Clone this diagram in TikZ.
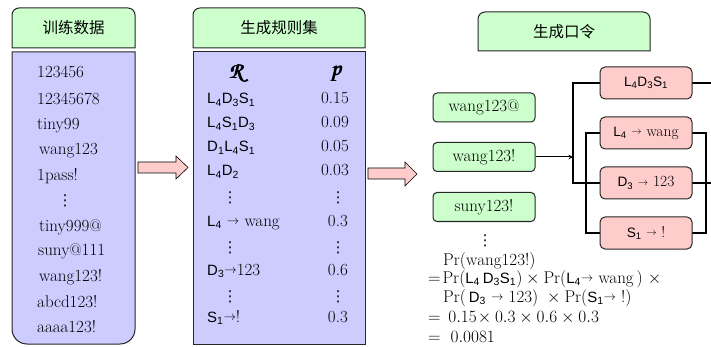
\documentclass[tikz,border=0pt]{standalone}
\usepackage{amsmath}
\usepackage{graphicx}
\usepackage{fontspec}
\setsansfont{Liberation Sans}[Scale=0.88]
\newfontfamily\cjk{Noto Sans CJK SC}
\newfontfamily\dotsfont{DejaVu Sans}
\DeclareMathAlphabet{\mathpzc}{OT1}{pzc}{m}{it}
\usetikzlibrary{backgrounds}
\definecolor{hdrgreen}{RGB}{204,255,204}
\definecolor{bodyblue}{RGB}{204,204,255}
\definecolor{rulepink}{RGB}{255,204,204}
% a symbol with a subscript length, e.g. L_4
\newcommand\tok[2]{\textsf{#1\textsubscript{#2}}}
% small rewrite arrow
\newcommand\sar{\raisebox{0.11em}{\scalebox{0.72}{$\rightarrow$}}}
% vertical ellipsis as a single glyph
\newcommand\vd{{\dotsfont\fontsize{15}{18}\selectfont ⋮}}
\begin{document}
\begin{tikzpicture}[x=1pt,y=-1pt,
  every node/.style={font=\fontsize{17}{20}\selectfont, inner sep=0pt},
  frame/.style={draw=black!85, line width=1pt},
  hdr/.style={frame, fill=hdrgreen},
  body/.style={frame, fill=bodyblue},
  cjktext/.style={font=\cjk\fontsize{15.5}{18}\selectfont},
  dots/.style={anchor=base},
  pwbox/.style={frame, fill=hdrgreen, rounded corners=4pt, minimum width=102pt, minimum height=29pt},
  rulebox/.style={frame, fill=rulepink, rounded corners=5pt, minimum width=92pt, minimum height=32pt,
    font=\fontsize{15.5}{18}\selectfont},
  bigarrow/.style={draw=black, line width=0.6pt, fill=rulepink},
  bus/.style={line width=2.2pt, line cap=rect}]
\useasboundingbox (0,0) rectangle (711,347);

% ---- training data column
\path[hdr] (12,48) -- (12,15) .. controls (12,11.13) and (15.13,8) .. (19,8) -- (128,8)
  .. controls (131.87,8) and (135,11.13) .. (135,15) -- (135,48) -- cycle;
\node[cjktext] (t1) at (73.5,28) {训练数据};
\path[body] (12,52) -- (135,52) -- (135,329) .. controls (135,337.28) and (128.28,344) .. (120,344)
  -- (27,344) .. controls (18.72,344) and (12,337.28) .. (12,329) -- cycle;
\node[anchor=base west] (d1) at (37,78) {123456};
\node[anchor=base west] (d2) at (37,105) {12345678};
\node[anchor=base west] (d3) at (37,130) {tiny99};
\node[anchor=base west] (d4) at (39,155) {wang123};
\node[anchor=base west] (d5) at (37,181) {1pass!};
\node[dots] (d6) at (65,206) {\vd};
\node[anchor=base west] (d7) at (39,231) {tiny999@};
\node[anchor=base west] (d8) at (38,255) {suny@111};
\node[anchor=base west] (d9) at (39,281) {wang123!};
\node[anchor=base west] (d10) at (37,307) {abcd123!};
\node[anchor=base west] (d11) at (37,332) {aaaa123!};

% ---- rule set column
\path[hdr] (193,48) -- (193,15) .. controls (193,11.13) and (196.13,8) .. (200,8) -- (358,8)
  .. controls (361.87,8) and (365,11.13) .. (365,15) -- (365,48) -- cycle;
\node[cjktext] (t2) at (279,28) {生成规则集};
\path[body] (193,52) rectangle (365,344);
\node[font=\fontsize{23}{25}\selectfont] (rh) at (239,73) {$\pmb{\mathpzc{R}}$};
\node[font=\fontsize{23}{25}\selectfont] (ph) at (337,74) {$\pmb{\mathpzc{p}}$};
\node[anchor=base west] (r1) at (207,104) {\tok{L}{4}\tok{D}{3}\tok{S}{1}};
\node[anchor=base west] (r2) at (207,128) {\tok{L}{4}\tok{S}{1}\tok{D}{3}};
\node[anchor=base west] (r3) at (207,152) {\tok{D}{1}\tok{L}{4}\tok{S}{1}};
\node[anchor=base west] (r4) at (207,176) {\tok{L}{4}\tok{D}{2}};
\node[dots] (r5) at (230,203) {\vd};
\node[anchor=base west] (r6) at (207,226) {\tok{L}{4} \sar{} wang};
\node[dots] (r7) at (230,252) {\vd};
\node[anchor=base west] (r8) at (207,275) {\tok{D}{3}\sar{}123};
\node[dots] (r9) at (230,301) {\vd};
\node[anchor=base west] (r10) at (207,322) {\tok{S}{1}\sar{}!};
\node[anchor=base east] (q1) at (349,104) {0.15};
\node[anchor=base east] (q2) at (349,128) {0.09};
\node[anchor=base east] (q3) at (349,152) {0.05};
\node[anchor=base east] (q4) at (349,176) {0.03};
\node[dots] (q5) at (338,203) {\vd};
\node[anchor=base east] (q6) at (348,226) {0.3};
\node[dots] (q7) at (338,252) {\vd};
\node[anchor=base east] (q8) at (348,275) {0.6};
\node[dots] (q9) at (338,301) {\vd};
\node[anchor=base east] (q10) at (348,322) {0.3};

% ---- block arrows between the columns
\path[bigarrow] (138,162) -- (176,162) -- (176,156) -- (188,167.5) -- (176,179) -- (176,173) -- (138,173) -- cycle;
\path[bigarrow] (368,168) -- (405,168) -- (405,162) -- (417,174) -- (405,186) -- (405,179) -- (368,179) -- cycle;

% ---- password generation
\path[hdr] (478,51) -- (478,19) .. controls (478,15.13) and (481.13,12) .. (485,12) -- (643,12)
  .. controls (646.87,12) and (650,15.13) .. (650,19) -- (650,51) -- cycle;
\node[cjktext] (t3) at (564,31.5) {生成口令};

\node[pwbox] (g1) at (484,107.5) {wang123@};
\node[pwbox] (g2) at (484,157) {wang123!};
\node[pwbox] (g3) at (484,207) {suny123!};
\node[dots] (g4) at (485,245) {\vd};

\node[rulebox] (p1) at (646,83) {\tok{L}{4}\tok{D}{3}\tok{S}{1}};
\node[rulebox] (p2) at (646,133) {\tok{L}{4} \sar{} wang};
\node[rulebox] (p3) at (646,183) {\tok{D}{3} \sar{} 123};
\node[rulebox] (p4) at (646,233) {\tok{S}{1} \sar{} !};

\coordinate (j) at (573,157);
\coordinate (bl) at (586,133);
\coordinate (br) at (706,133);
\coordinate (e1) at (712,83);
\coordinate (e3) at (712,183);
\draw[-stealth, line width=1pt] (g2.east) -- (j);
\begin{pgfonlayer}{background}
  \draw[bus] (p1.west) -| (j) |- (p3.west);
  \draw[bus] (p2.west) -- (bl) |- (p4.west);
  \draw[bus] (p2.east) -- (br) |- (p4.east);
  \draw[bus] (p1.east) -- (e1);
  \draw[bus] (p3.east) -- (e3);
\end{pgfonlayer}

% ---- probability of the example password
\node[anchor=base west] (f1) at (443,265) {$\Pr(\mathrm{wang123!})$};
\node[anchor=base west] (f2) at (428,283) {$=\!\Pr(\text{\tok{L}{4}\,\tok{D}{3}\tok{S}{1}})\times\Pr(\text{\tok{L}{4}\sar{} wang\,})\ \times$};
\node[anchor=base west] (f3) at (443,302) {$\Pr(\,\text{\tok{D}{3} \sar{} 123})\ \times\Pr(\text{\tok{S}{1}\sar{} !})$};
\node[anchor=base west] (f4) at (428,322) {$=\,0.15\!\times 0.3\times 0.6\times 0.3$};
\node[anchor=base west] (f5) at (428,342) {$=\ 0.0081$};
\end{tikzpicture}
\end{document}
